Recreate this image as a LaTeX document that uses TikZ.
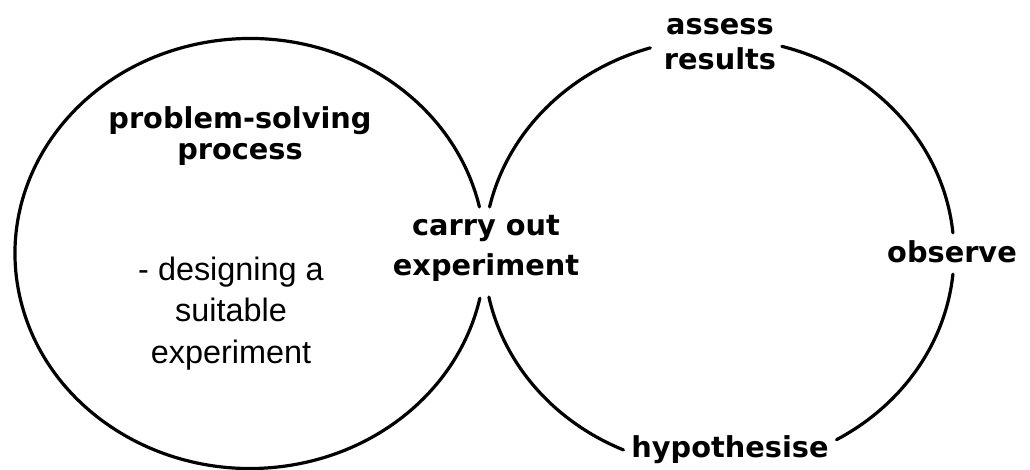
\documentclass[tikz,border=0pt]{standalone}
\usepackage{fontspec}
\newfontfamily\headfont{DejaVu Sans}
\newfontfamily\notefont{Liberation Sans}

\begin{document}
\begin{tikzpicture}[x=1pt,y=1pt,
  ring/.style={line width=3.2pt,line cap=round},
  lbl/.style={font={\headfont\bfseries\fontsize{28.8}{#1}\selectfont},inner sep=0pt,align=center},
  lbl/.default=35,
  note/.style={font={\notefont\fontsize{32.4}{41.5}\selectfont},inner sep=0pt,align=center}]
\useasboundingbox (0,0) rectangle (1030,470);
\coordinate (L) at (250,216.5);
\coordinate (R) at (719,216.5);
% labels
\node[lbl=31] (solve) at (240,334) {problem-solving\\process};
\node[note] (design) at (231,156.5) {- designing a\\suitable\\experiment};
\node[lbl=40] (carry) at (486,221.5) {carry out\\experiment};
\node[lbl] (assess) at (720,425.5) {assess\\results};
\node[lbl] (observe) at (952,218) {observe};
\node[lbl] (hypo) at (730,20.5) {hypothesise};
% left loop, open at carry out
\draw[ring] (L) ++(12.5:235pt and 215pt) arc[start angle=12.5,end angle=348,x radius=235pt,y radius=215pt];
% right loop, open at each label
\foreach \a/\b in {5.5/74.5,107/167.5,191.7/246,300/354.5}
  \draw[ring] (R) ++(\a:235pt and 215pt) arc[start angle=\a,end angle=\b,x radius=235pt,y radius=215pt];
\end{tikzpicture}
\end{document}
